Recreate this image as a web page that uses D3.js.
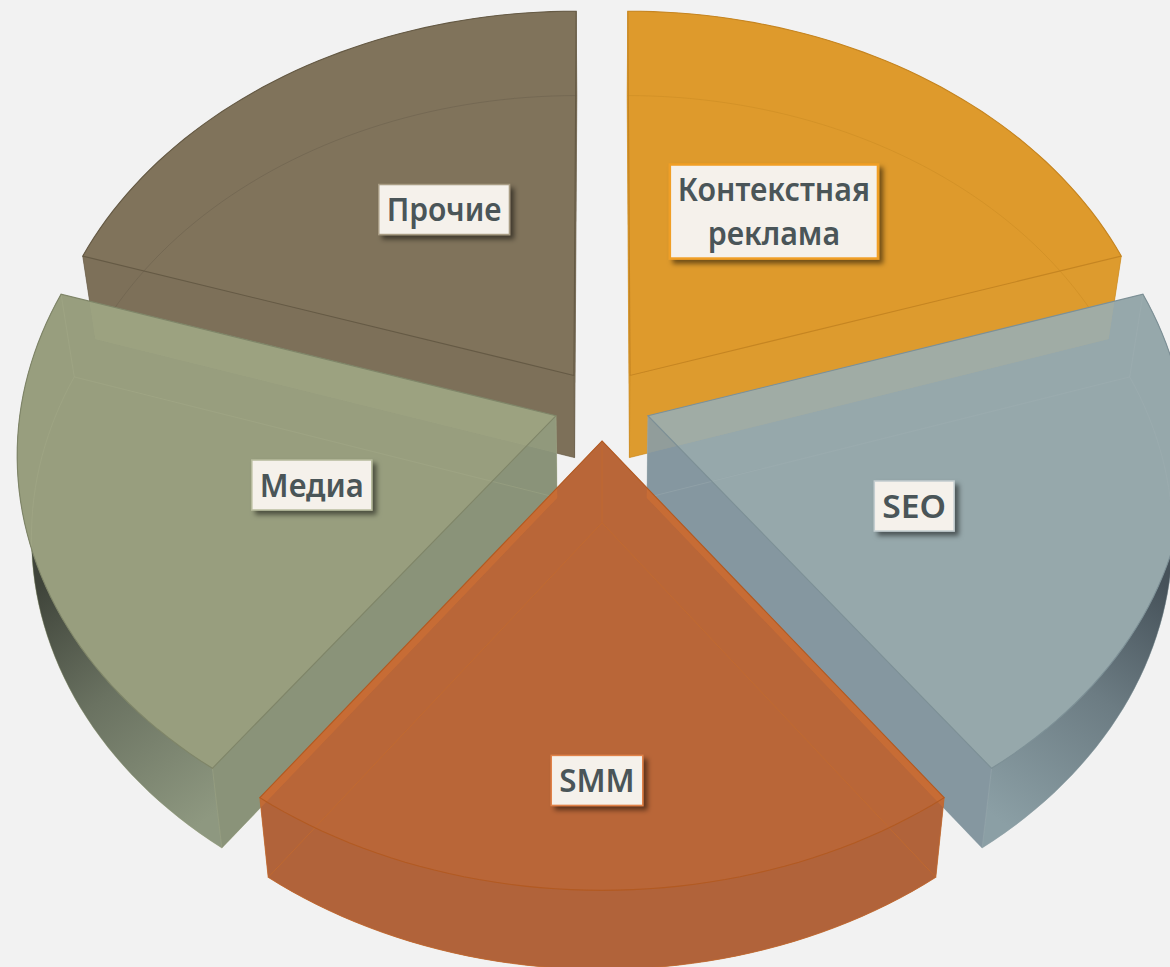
<!DOCTYPE html>
<html><head><meta charset="utf-8">
<script src="https://cdn.jsdelivr.net/npm/d3@7"></script>
<style>html,body{margin:0;padding:0;background:#f2f2f2;overflow:hidden}svg{display:block}</style>
</head><body><div id="chart"></div>
<script>
const categories = ["Контекстная реклама","SEO","SMM","Медиа","Прочие"];
const values = [20,20,20,20,20];
const topColors = ["#de9a2c","#96a8ab","#b96638","#989e7e","#80735b"];
const sideColors = ["#dd9b2e","#8597a0","#b1633a","#8a9379","#7d7059"];
const edgeColors = ["#c58522","#7d9096","#b25a22","#7f8568","#655a45"];
const innerColors = ["#cf8e25","#a3b2b5","#c26a30","#a8ae8d","#6f6450"];
const innerOpacity = [0.7,0.35,0.8,0.35,0.7];
const outerDark = ["#dd9b2e","#46525a","#b1633a","#3f443a","#7d7059"];
const outerLight = ["#dd9b2e","#8b9fa5","#b1633a","#8e9880","#7d7059"];
const borderColors = ["#f09f26","#c4ced0","#e0824a","#b8bc9e","#a89c84"];
const overlapTints = ["#ffffff","#ecc878","#e87c30","#b0b68e","#ffffff"];
const overlapOpacity = [0,0.12,0.3,0.2,0];
const paintOrder = [4,0,3,1,2];
const labelLines=[["Контекстная","реклама"],["SEO"],["SMM"],["Медиа"],["Прочие"]];

const W=1170,H=967;
const cam={cx:602,cy:404.5,s:535,a:402,p:0.09,q:0.025,h:82,explode:0.09};
function project(X,Y,level){
  const w=1-cam.p*Y, k=level?1/(1+cam.q):1;
  return [cam.cx+cam.s*X/w*k, cam.cy+cam.a*Y/w*k+level*cam.h/w];
}
const svg=d3.select("#chart").append("svg").attr("width",W).attr("height",H);
svg.append("rect").attr("width",W).attr("height",H).attr("fill","#f2f2f2");
const defs=svg.append("defs");
const f=defs.append("filter").attr("id","sh").attr("x","-20%").attr("y","-20%").attr("width","150%").attr("height","150%");
f.append("feDropShadow").attr("dx",4).attr("dy",4).attr("stdDeviation",2.5).attr("flood-color","#000").attr("flood-opacity",0.5);

const arcs=d3.pie().sort(null)(values);
const line=d3.line();
const closed=pts=>line(pts)+"Z";

function slicePts(d,level){
  const mid=(d.startAngle+d.endAngle)/2, ox=cam.explode*Math.sin(mid), oy=-cam.explode*Math.cos(mid);
  const pt=(ang,rad)=>project(ox+rad*Math.sin(ang),oy-rad*Math.cos(ang),level);
  const n=48, rim=d3.range(n+1).map(i=>pt(d.startAngle+(d.endAngle-d.startAngle)*i/n,1));
  return {apex:pt(0,0),rim,pt};
}
function silhouette(d){
  const T=slicePts(d,0),B=slicePts(d,1),e=T.rim.length-1;
  return [
    closed([B.apex,...B.rim]),
    closed([...T.rim,...B.rim.slice().reverse()]),
    closed([T.apex,T.rim[0],B.rim[0],B.apex]),
    closed([T.apex,T.rim[e],B.rim[e],B.apex]),
    closed([T.apex,...T.rim])
  ];
}
paintOrder.forEach((i,order)=>{
  const d=arcs[i], T=slicePts(d,0), B=slicePts(d,1), e=T.rim.length-1;
  const g=svg.append("g");
  const from=i===3?B.rim[Math.round(e*0.45)]:B.rim[Math.round(e*0.55)];
  const to=i===3?B.rim[0]:B.rim[e];
  const grad=defs.append("linearGradient").attr("id","o"+i).attr("gradientUnits","userSpaceOnUse")
    .attr("x1",from[0]).attr("y1",from[1]-70).attr("x2",to[0]).attr("y2",to[1]-40);
  grad.append("stop").attr("offset","0").attr("stop-color",outerDark[i]);
  grad.append("stop").attr("offset","0.45").attr("stop-color",d3.interpolateRgb(outerDark[i],outerLight[i])(0.55));
  grad.append("stop").attr("offset","1").attr("stop-color",outerLight[i]);

  g.append("path").attr("d",closed([B.apex,...B.rim])).attr("fill",sideColors[i]);
  g.append("path").attr("d",closed([...T.rim,...B.rim.slice().reverse()])).attr("fill",`url(#o${i})`);
  [[T.rim[0],B.rim[0]],[T.rim[e],B.rim[e]]].forEach(([a,b])=>{
    g.append("path").attr("d",closed([T.apex,a,b,B.apex])).attr("fill",sideColors[i]);
  });
  g.append("path").attr("d",closed([T.apex,...T.rim])).attr("fill",topColors[i]);

  if(overlapOpacity[i]>0){
    const clip=defs.append("clipPath").attr("id","c"+i);
    silhouette(d).forEach(p=>clip.append("path").attr("d",p));
    const ov=g.append("g").attr("clip-path",`url(#c${i})`).attr("opacity",overlapOpacity[i]);
    paintOrder.slice(0,order).forEach(j=>{
      silhouette(arcs[j]).forEach(p=>ov.append("path").attr("d",p).attr("fill",overlapTints[i]));
    });
  }
  g.append("path").attr("d",closed([B.apex,...B.rim])).attr("fill","none")
    .attr("stroke",innerColors[i]).attr("stroke-width",1).attr("stroke-opacity",innerOpacity[i]);
  [[T.apex,B.apex],[T.rim[0],B.rim[0]],[T.rim[e],B.rim[e]]].forEach(s=>{
    g.append("path").attr("d",line(s)).attr("fill","none").attr("stroke",innerColors[i]).attr("stroke-width",1).attr("stroke-opacity",innerOpacity[i]);
  });
  g.append("path").attr("d",closed([T.apex,...T.rim])).attr("fill","none")
    .attr("stroke",edgeColors[i]).attr("stroke-width",1.1);
});

const labelRadius=[0.5,0.5,0.62,0.5,0.5];
const labelNudge=[[-6,-9],[7,27],[-5,71],[15,6],[20,-11]];
const labelStretch=[0.92,1.02,0.95,0.94,0.91];
const padX=8, lh=44, padY=6;
arcs.forEach((d,i)=>{
  const mid=(d.startAngle+d.endAngle)/2;
  const c=slicePts(d,0).pt(mid,labelRadius[i]);
  const x=c[0]+labelNudge[i][0], y=c[1]+labelNudge[i][1];
  const g=svg.append("g").attr("transform",`translate(${x},${y})`);
  const rect=g.append("rect").attr("fill","#f5f1eb").attr("stroke",borderColors[i])
    .attr("stroke-width",i===0?2.5:1.5).attr("filter","url(#sh)");
  const t=g.selectAll("text").data(labelLines[i]).join("text")
    .attr("text-anchor","middle")
    .attr("transform",(s,j)=>`translate(0,${(j-(labelLines[i].length-1)/2)*lh}) scale(${labelStretch[i]},1)`)
    .attr("dy","0.36em")
    .attr("font-family","'Noto Sans','Open Sans',sans-serif").attr("font-weight",600)
    .attr("font-size",33).attr("fill","#4a5558").text(s=>s);
  const w=d3.max(t.nodes(),n=>n.getComputedTextLength())*labelStretch[i];
  const hh=labelLines[i].length*lh+padY;
  rect.attr("x",-w/2-padX).attr("y",-hh/2).attr("width",w+2*padX).attr("height",hh);
});
</script></body></html>
